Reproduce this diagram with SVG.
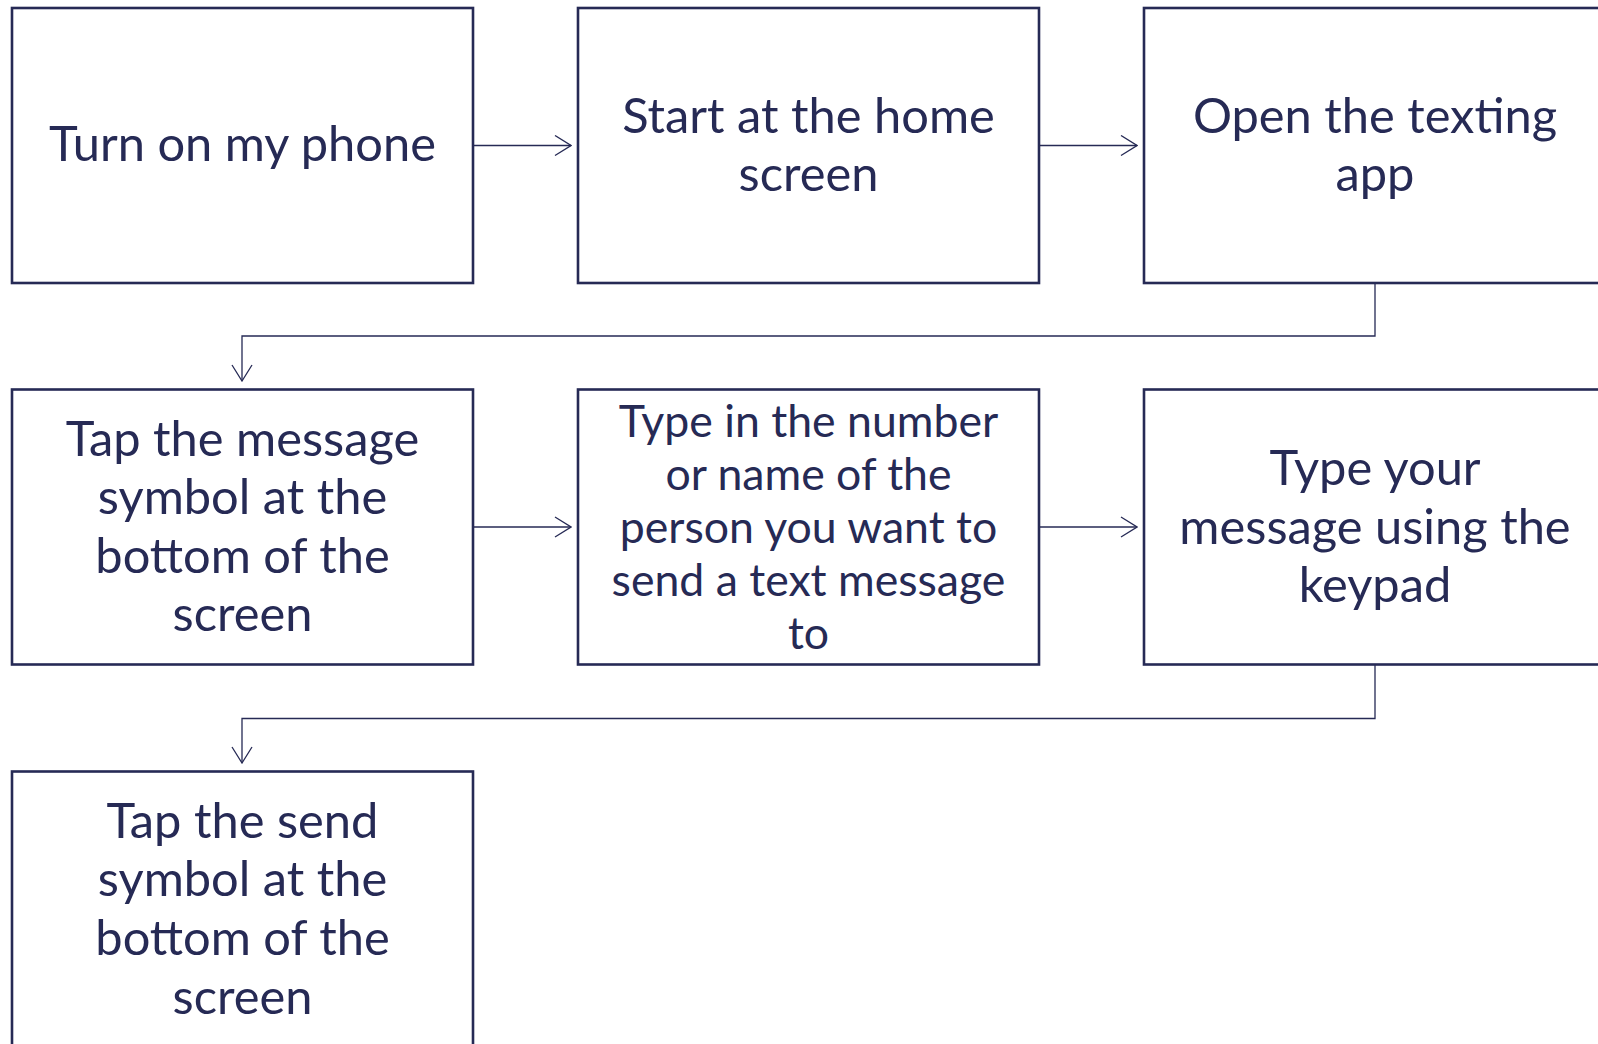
<svg xmlns="http://www.w3.org/2000/svg" width="1598" height="1044" viewBox="0 0 1598 1044">
<style>
.box{fill:#fff;stroke:#262a55;stroke-width:2.6}
.t{font-family:Lato,"Liberation Sans",sans-serif;fill:#262a55;text-anchor:middle;font-size:48.8px}
.s{font-size:44.6px}
.c{fill:none;stroke:#262a55;stroke-width:1.3}
</style>
<defs>
<marker id="ah" viewBox="0 0 18 22" refX="17" refY="11" markerWidth="18" markerHeight="22" markerUnits="userSpaceOnUse" orient="auto">
<path d="M1,1 L17,11 L1,21" fill="none" stroke="#262a55" stroke-width="1.3"/>
</marker>
</defs>
<rect width="1598" height="1044" fill="#fff"/>
<g id="connectors">
<line class="c" x1="473" y1="145.5" x2="571" y2="145.5" marker-end="url(#ah)"/>
<line class="c" x1="1039" y1="145.5" x2="1137" y2="145.5" marker-end="url(#ah)"/>
<polyline class="c" points="1375,283 1375,336 242,336 242,381" marker-end="url(#ah)"/>
<line class="c" x1="473" y1="527" x2="571" y2="527" marker-end="url(#ah)"/>
<line class="c" x1="1039" y1="527" x2="1137" y2="527" marker-end="url(#ah)"/>
<polyline class="c" points="1375,665 1375,718.5 242,718.5 242,763" marker-end="url(#ah)"/>
</g>
<g id="n1"><rect class="box" x="12" y="8" width="461" height="275"/>
<text class="t" x="242.5" y="161">Turn on my phone</text></g>
<g id="n2"><rect class="box" x="578" y="8" width="461" height="275"/>
<text class="t" x="808.5" y="132.5">Start at the home</text><text class="t" x="808.5" y="191">screen</text></g>
<g id="n3"><rect class="box" x="1144" y="8" width="461" height="275"/>
<text class="t" x="1375" y="132.5">Open the texting</text><text class="t" x="1375" y="191">app</text></g>
<g id="n4"><rect class="box" x="12" y="389.5" width="461" height="275"/>
<text class="t" x="242.5" y="455.5">Tap the message</text><text class="t" x="242.5" y="514">symbol at the</text><text class="t" x="242.5" y="572.7">bottom of the</text><text class="t" x="242.5" y="631.3">screen</text></g>
<g id="n5"><rect class="box" x="578" y="389.5" width="461" height="275"/>
<text class="t s" x="808.5" y="437">Type in the number</text><text class="t s" x="808.5" y="490">or name of the</text><text class="t s" x="808.5" y="543">person you want to</text><text class="t s" x="808.5" y="596">send a text message</text><text class="t s" x="808.5" y="649">to</text></g>
<g id="n6"><rect class="box" x="1144" y="389.5" width="461" height="275"/>
<text class="t" x="1375" y="485">Type your</text><text class="t" x="1375" y="543.6">message using the</text><text class="t" x="1375" y="602.2">keypad</text></g>
<g id="n7"><rect class="box" x="12" y="771.5" width="461" height="280"/>
<text class="t" x="242.5" y="837.7">Tap the send</text><text class="t" x="242.5" y="896.3">symbol at the</text><text class="t" x="242.5" y="955">bottom of the</text><text class="t" x="242.5" y="1013.5">screen</text></g>
</svg>
